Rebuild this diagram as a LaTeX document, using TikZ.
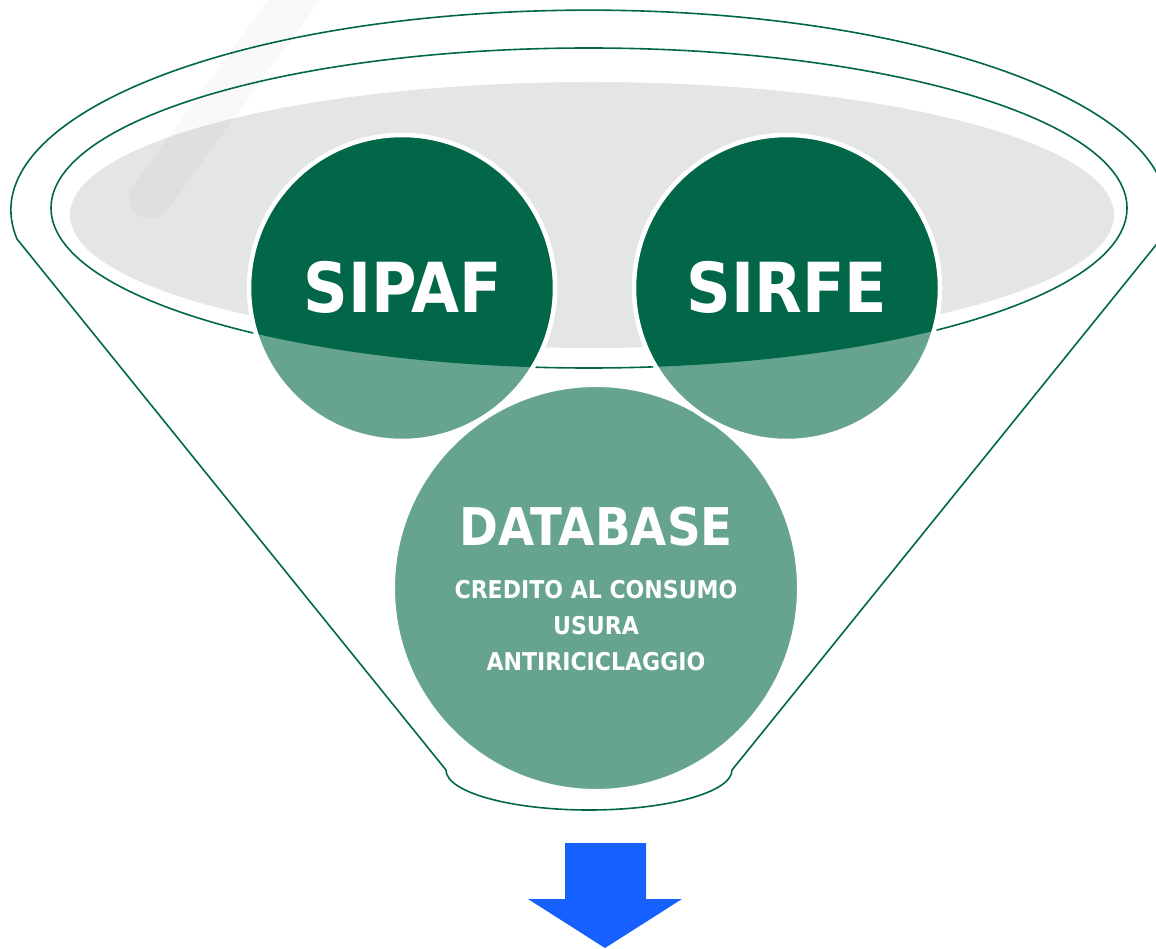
\documentclass[tikz,border=0pt]{standalone}
\usepackage{fontspec}
\setmainfont{DejaVu Sans}[FakeStretch=0.9]
\usepackage{tikz}
\definecolor{fundark}{RGB}{2,103,72}
\definecolor{funlight}{RGB}{102,164,143}
\definecolor{fungray}{RGB}{227,230,228}
\definecolor{arrowblue}{RGB}{22,96,255}
\tikzset{
  bigname/.style={text=white,font=\bfseries\fontsize{69}{80}\selectfont},
  dbname/.style={text=white,font=\bfseries\fontsize{52}{60}\selectfont},
  dbtopic/.style={text=white,align=center,font=\bfseries\fontsize{24.5}{36}\selectfont}
}
\begin{document}
\begin{tikzpicture}[x=1pt,y=1pt]
\useasboundingbox (0,-949) rectangle (1156,0);
\clip (0,-949) rectangle (1156,0);
% objects at depth 90:
\path[fill=fungray] (592,-215) ellipse [x radius=522, y radius=133];
\path[draw=black,draw opacity=0.025,line width=42,line cap=round] (150,-198) -- (305,15);
% objects at depth 80:
\path[draw=fundark,line width=1.6] (17,-239) arc[start angle=188.3,end angle=-8.3,x radius=578,y radius=200]
  -- (732,-770) arc[start angle=360,end angle=180,x radius=143,y radius=40] -- cycle;
\path[draw=fundark,line width=1.6] (589,-208) ellipse [x radius=538, y radius=160];
% objects at depth 50:
\path[draw=white,line width=4,fill=funlight] (596,-588) circle[radius=203];
% objects at depth 40:
\path[fill=funlight] (402,-288) circle[radius=153];
\path[fill=funlight] (787,-288) circle[radius=153];
\begin{scope}
\clip (589,-208) ellipse [x radius=538, y radius=160];
\path[fill=fundark] (402,-288) circle[radius=153];
\path[fill=fundark] (787,-288) circle[radius=153];
\end{scope}
\path[draw=white,line width=4.5] (402,-288) circle[radius=153];
\path[draw=white,line width=4.5] (787,-288) circle[radius=153];
% objects at depth 30:
\node[bigname] (sipaf) at (403,-287) {SIPAF};
\node[bigname] (sirfe) at (787,-287) {SIRFE};
\node[dbname] (database) at (596,-527) {DATABASE};
\node[dbtopic] (topics) at (596,-625.5) {CREDITO AL CONSUMO\\USURA\\ANTIRICICLAGGIO};
% objects at depth 10:
\path[fill=arrowblue] (565,-843) -- (646,-843) -- (646,-899) -- (682,-899) -- (605,-948) -- (528,-899) -- (565,-899) -- cycle;
\end{tikzpicture}
\end{document}
